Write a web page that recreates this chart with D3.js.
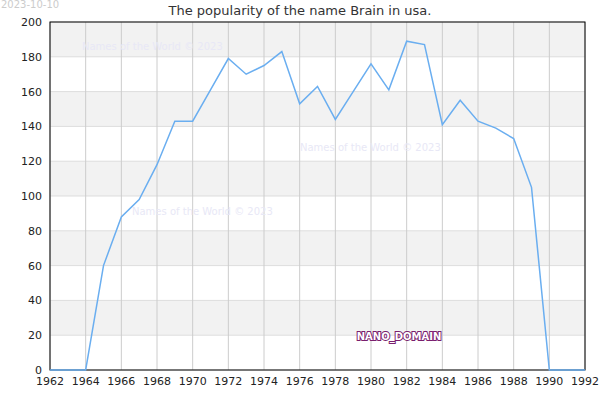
<!DOCTYPE html>
<html><head><meta charset="utf-8">
<script src="https://cdn.jsdelivr.net/npm/d3@7"></script>
<style>body{margin:0;background:#fff}text{font-family:"DejaVu Sans",sans-serif}</style>
</head><body>
<script>
// chart data
var years = d3.range(1962, 1993);
var values = [0,0,0,60,88,98,118,143,143,161,179,170,175,183,153,163,144,160,176,161,189,187,141,155,143,139,133,105,0,0,0];
var yTicks = [0,20,40,60,80,100,120,140,160,180,200];
var xTicks = d3.range(1962, 1993, 2);

var width = 600, height = 400;
var margin = {left: 50, right: 15, top: 22, bottom: 30};

var svg = d3.select("body").append("svg")
    .attr("width", width).attr("height", height);

var x = d3.scaleLinear().domain([1962, 1992]).range([margin.left, width - margin.right]);
var y = d3.scaleLinear().domain([0, 200]).range([height - margin.bottom, margin.top]);

// alternating bands
for (var i = 0; i < yTicks.length - 1; i += 2) {
  svg.append("rect")
    .attr("x", margin.left).attr("width", x(1992) - x(1962))
    .attr("y", y(yTicks[i + 2] || 200)).attr("height", y(yTicks[i + 1]) - y(yTicks[i + 2] || 200))
    .attr("fill", "#f2f2f2");
}

// grid
svg.selectAll(".hg").data(yTicks).enter().append("line")
  .attr("x1", margin.left).attr("x2", x(1992))
  .attr("y1", d => y(d)).attr("y2", d => y(d))
  .attr("stroke", "#ddd");
svg.selectAll(".vg").data(xTicks).enter().append("line")
  .attr("x1", d => x(d)).attr("x2", d => x(d))
  .attr("y1", y(200)).attr("y2", y(0))
  .attr("stroke", "#ccc");

// watermarks
[[82, 50], [300, 151], [132, 215]].forEach(function(p){
  svg.append("text").attr("x", p[0]).attr("y", p[1])
    .attr("font-size", 10).attr("fill", "#e8e8f6").text("Names of the World © 2023");
});

// frame
svg.append("rect").attr("x", margin.left).attr("y", y(200))
  .attr("width", x(1992) - x(1962)).attr("height", y(0) - y(200))
  .attr("fill", "none").attr("stroke", "#000");

// line
var line = d3.line().x((d, i) => x(years[i])).y(d => y(d));
svg.append("path").datum(values).attr("d", line)
  .attr("fill", "none").attr("stroke", "#6aaef0").attr("stroke-width", 1.5);

// axes labels
svg.selectAll(".yl").data(yTicks).enter().append("text")
  .attr("x", margin.left - 8).attr("y", d => y(d) + 4)
  .attr("text-anchor", "end").attr("font-size", 11).attr("fill", "#222").text(d => d);
svg.selectAll(".xl").data(xTicks).enter().append("text")
  .attr("x", d => x(d)).attr("y", y(0) + 15)
  .attr("text-anchor", "middle").attr("font-size", 11).attr("fill", "#222").text(d => d);

// title + date
svg.append("text").attr("x", 300).attr("y", 15).attr("text-anchor", "middle")
  .attr("font-size", 13).attr("fill", "#333").text("The popularity of the name Brain in usa.");
svg.append("text").attr("x", 1).attr("y", 8).attr("font-size", 10)
  .attr("fill", "#ccc").text("2023-10-10");

svg.append("text").attr("x", 399).attr("y", 340).attr("text-anchor", "middle")
  .attr("font-size", 10).attr("font-weight", "bold").attr("fill", "#fff")
  .attr("stroke", "#7a1f6e").attr("stroke-width", 2).attr("paint-order", "stroke")
  .text("NANO_DOMAIN");
</script>
</body></html>
